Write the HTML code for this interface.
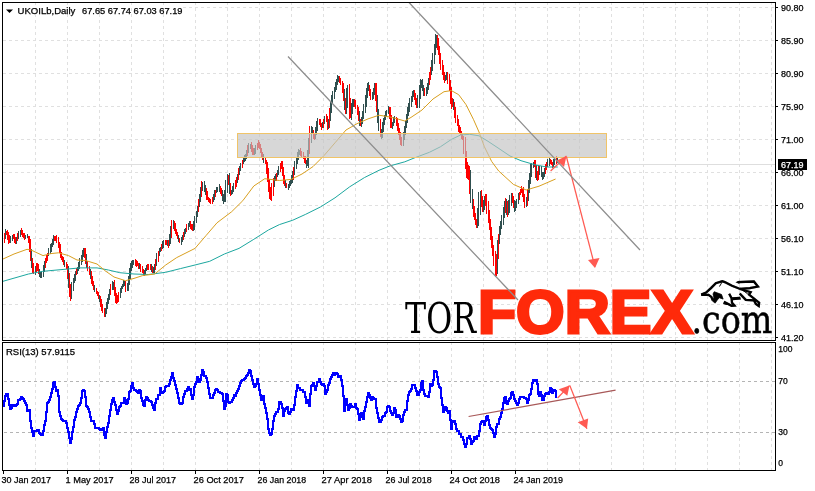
<!DOCTYPE html>
<html><head><meta charset="utf-8"><title>UKOILb Daily</title>
<style>html,body{margin:0;padding:0;background:#fff}svg{display:block}text{font-family:"Liberation Sans","DejaVu Sans",sans-serif;font-size:9px;fill:#000;stroke:#000;stroke-width:0.25px}.g{stroke:#e0e0e0;stroke-width:1;stroke-dasharray:3 3;fill:none;shape-rendering:crispEdges}.lv{stroke:#b4b4b4;stroke-width:1;stroke-dasharray:3 3;fill:none;shape-rendering:crispEdges}.b{stroke:#000;stroke-width:1;fill:none;shape-rendering:crispEdges}</style></head><body>
<svg width="815" height="491" viewBox="0 0 815 491">
<rect width="815" height="491" fill="#fff"/>
<g class="g">
<path d="M35.5 2V340M35.5 342V470"/>
<path d="M67.5 2V340M67.5 342V470"/>
<path d="M99.5 2V340M99.5 342V470"/>
<path d="M131.5 2V340M131.5 342V470"/>
<path d="M163.5 2V340M163.5 342V470"/>
<path d="M195.5 2V340M195.5 342V470"/>
<path d="M227.5 2V340M227.5 342V470"/>
<path d="M259.5 2V340M259.5 342V470"/>
<path d="M291.5 2V340M291.5 342V470"/>
<path d="M323.5 2V340M323.5 342V470"/>
<path d="M355.5 2V340M355.5 342V470"/>
<path d="M387.5 2V340M387.5 342V470"/>
<path d="M419.5 2V340M419.5 342V470"/>
<path d="M451.5 2V340M451.5 342V470"/>
<path d="M483.5 2V340M483.5 342V470"/>
<path d="M515.5 2V340M515.5 342V470"/>
<path d="M547.5 2V340M547.5 342V470"/>
<path d="M579.5 2V340M579.5 342V470"/>
<path d="M611.5 2V340M611.5 342V470"/>
<path d="M643.5 2V340M643.5 342V470"/>
<path d="M675.5 2V340M675.5 342V470"/>
<path d="M707.5 2V340M707.5 342V470"/>
<path d="M739.5 2V340M739.5 342V470"/>
<path d="M771.5 2V340M771.5 342V470"/>
<path d="M183 7.5H775"/>
<path d="M3 40.5H775"/>
<path d="M3 73.5H775"/>
<path d="M3 106.5H775"/>
<path d="M3 139.5H775"/>
<path d="M3 172.5H775"/>
<path d="M3 205.5H775"/>
<path d="M3 238.5H775"/>
<path d="M3 271.5H775"/>
<path d="M3 304.5H775"/>
<path d="M3 337.5H775"/>
</g>
<g class="lv"><path d="M4 381.5H775M4 432.5H775"/></g>
<path d="M4 164.5H775" stroke="#dedede" stroke-width="1" shape-rendering="crispEdges"/>
<g shape-rendering="crispEdges" stroke-width="1">
<path d="M5.5 229V239M10.5 236V243M12.5 235V241M16.5 237V244M18.5 231V239M20.5 230V237M25.5 235V239M27.5 234V238M31.5 249V268M35.5 266V275M39.5 269V277M40.5 272V278M41.5 271V278M43.5 265V277M44.5 261V272M48.5 248V256M50.5 244V254M51.5 243V252M52.5 239V247M53.5 235V245M64.5 260V267M68.5 266V288M71.5 282V299M73.5 278V291M74.5 274V283M75.5 271V281M77.5 267V274M78.5 262V271M79.5 258V269M81.5 255V265M82.5 250V262M83.5 248V257M86.5 254V268M90.5 269V279M94.5 285V292M99.5 295V302M105.5 308V317M106.5 302V314M107.5 298V309M108.5 294V304M109.5 289V300M112.5 281V290M113.5 282V290M120.5 288V298M121.5 286V293M122.5 284V289M123.5 280V287M124.5 281V286M127.5 283V291M128.5 276V291M129.5 268V285M130.5 263V279M131.5 261V271M132.5 260V268M133.5 260V265M139.5 263V269M144.5 270V276M145.5 268V275M146.5 265V271M151.5 264V272M153.5 267V273M154.5 264V273M156.5 253V266M159.5 248V256M160.5 247V252M162.5 241V249M163.5 240V248M167.5 240V246M169.5 234V246M170.5 226V244M173.5 220V229M178.5 235V242M181.5 237V245M182.5 235V242M184.5 229V237M185.5 228V234M188.5 223V230M189.5 221V227M193.5 221V231M194.5 216V230M196.5 211V223M197.5 206V217M199.5 194V207M200.5 187V202M202.5 182V191M204.5 181V192M205.5 185V195M213.5 194V202M214.5 190V200M216.5 187V193M217.5 187V192M219.5 184V192M222.5 190V201M223.5 194V204M224.5 190V202M225.5 180V202M227.5 174V193M229.5 173V194M231.5 190V195M232.5 186V194M233.5 183V192M237.5 174V183M239.5 166V175M240.5 163V171M243.5 157V164M244.5 155V162M245.5 154V161M246.5 150V159M248.5 143V153M250.5 144V149M254.5 148V155M255.5 145V154M263.5 154V163M274.5 176V187M275.5 174V181M277.5 170V177M278.5 166V175M285.5 180V188M288.5 184V190M289.5 181V188M290.5 180V186M291.5 175V184M292.5 171V183M294.5 161V175M296.5 157V169M297.5 152V164M298.5 149V160M299.5 150V155M306.5 160V168M307.5 150V166M308.5 138V168M311.5 126V143M312.5 127V134M315.5 127V139M316.5 121V135M317.5 118V131M322.5 122V128M324.5 116V124M328.5 119V129M330.5 102V121M331.5 95V113M332.5 91V104M334.5 87V99M335.5 82V92M336.5 79V90M337.5 75V85M338.5 76V82M344.5 89V110M346.5 88V114M347.5 85V108M351.5 103V120M352.5 99V114M353.5 99V107M359.5 111V126M361.5 117V127M362.5 111V124M363.5 104V119M365.5 95V113M366.5 88V107M367.5 83V98M368.5 82V91M372.5 92V100M373.5 88V99M374.5 83V95M377.5 95V123M378.5 109V131M381.5 129V139M382.5 122V138M383.5 118V132M384.5 115V125M385.5 111V120M386.5 110V117M388.5 106V114M392.5 122V129M393.5 117V126M394.5 116V123M403.5 132V146M404.5 126V140M405.5 121V135M406.5 114V128M407.5 107V123M408.5 103V116M409.5 98V112M411.5 96V107M412.5 91V102M413.5 90V97M417.5 95V108M419.5 85V108M420.5 79V99M421.5 80V88M422.5 79V91M423.5 85V96M426.5 87V96M427.5 83V94M428.5 78V90M431.5 60V75M432.5 53V71M434.5 44V64M435.5 34V55M436.5 35V48M445.5 75V81M446.5 72V80M453.5 99V110M470.5 170V203M472.5 189V209M477.5 208V228M478.5 192V226M480.5 191V215M483.5 200V212M484.5 196V210M497.5 240V274M499.5 226V244M500.5 221V235M501.5 215V229M503.5 207V225M504.5 201V218M506.5 199V215M508.5 200V215M509.5 195V213M511.5 193V206M514.5 200V212M515.5 201V211M516.5 199V208M518.5 193V204M526.5 197V207M528.5 180V201M529.5 173V193M530.5 164V184M531.5 163V177M533.5 162V168M536.5 165V180M539.5 166V175M541.5 166V177M542.5 172V180M543.5 172V179M544.5 168V177M547.5 159V167M549.5 158V166M553.5 159V167M554.5 157V165M557.5 157V163" stroke="#2f4f4f"/>
<path d="M4.5 233V243M6.5 231V235M7.5 230V240M8.5 232V244M9.5 235V243M13.5 234V239M14.5 234V243M15.5 237V244M17.5 233V241M21.5 228V235M22.5 230V237M23.5 233V238M24.5 233V240M28.5 236V243M29.5 236V252M30.5 239V261M32.5 258V273M33.5 263V274M36.5 263V273M37.5 263V271M38.5 264V274M45.5 258V268M46.5 255V263M47.5 253V261M54.5 236V241M55.5 236V241M56.5 235V243M58.5 237V248M59.5 242V253M60.5 244V258M61.5 252V260M62.5 256V262M63.5 257V265M66.5 262V269M67.5 264V279M69.5 273V297M70.5 284V301M76.5 268V275M84.5 248V258M85.5 248V264M87.5 261V271M89.5 266V275M91.5 271V284M92.5 276V286M93.5 281V290M96.5 288V294M97.5 291V296M98.5 292V299M100.5 296V307M101.5 299V311M102.5 304V313M104.5 308V317M110.5 284V295M114.5 280V296M115.5 287V303M116.5 293V304M117.5 295V303M118.5 292V302M125.5 281V292M135.5 259V266M136.5 260V267M137.5 261V266M138.5 263V269M140.5 264V272M142.5 266V273M143.5 269V276M147.5 264V270M148.5 264V270M150.5 264V270M152.5 266V273M155.5 259V270M158.5 251V262M161.5 244V251M165.5 240V245M166.5 240V245M168.5 240V248M171.5 220V238M174.5 221V231M175.5 223V234M176.5 229V236M177.5 232V239M179.5 238V243M183.5 232V240M186.5 224V232M190.5 221V229M191.5 224V230M192.5 224V231M198.5 199V212M201.5 181V197M206.5 188V200M207.5 191V200M208.5 197V202M209.5 198V203M210.5 199V204M212.5 197V204M215.5 190V197M220.5 186V194M221.5 188V196M228.5 175V185M230.5 183V196M235.5 180V189M236.5 177V187M238.5 168V180M242.5 160V168M247.5 145V156M251.5 142V152M252.5 145V155M253.5 148V155M257.5 143V150M258.5 140V148M259.5 142V149M260.5 144V153M261.5 148V157M262.5 152V160M265.5 157V164M266.5 160V174M267.5 162V182M268.5 168V192M269.5 179V199M270.5 187V200M271.5 183V201M273.5 178V196M276.5 173V181M280.5 163V172M281.5 161V169M282.5 161V176M283.5 167V184M284.5 175V186M286.5 183V188M293.5 167V180M300.5 148V156M301.5 151V157M303.5 152V159M304.5 156V163M305.5 156V164M309.5 126V154M313.5 130V139M314.5 133V140M319.5 119V125M320.5 119V127M321.5 123V130M323.5 119V128M326.5 114V122M327.5 116V130M329.5 108V128M339.5 76V83M340.5 78V85M342.5 81V93M343.5 83V101M345.5 98V114M349.5 84V119M350.5 98V118M354.5 99V107M355.5 100V109M357.5 105V115M358.5 107V121M360.5 119V126M369.5 85V96M370.5 89V100M375.5 83V101M376.5 83V112M380.5 119V137M389.5 107V119M390.5 107V128M391.5 115V128M396.5 117V126M397.5 118V131M398.5 123V135M399.5 128V140M400.5 132V145M401.5 137V146M414.5 90V100M415.5 93V105M416.5 98V108M424.5 88V96M429.5 72V85M430.5 67V80M437.5 35V50M438.5 38V55M439.5 46V64M440.5 53V70M442.5 60V75M443.5 65V80M444.5 72V83M447.5 72V84M449.5 74V91M450.5 80V104M451.5 87V109M452.5 98V107M454.5 102V118M455.5 107V123M457.5 115V126M458.5 119V132M459.5 125V133M460.5 127V135M461.5 131V139M462.5 134V140M463.5 136V154M465.5 137V169M466.5 151V178M467.5 162V179M468.5 165V180M469.5 166V194M473.5 199V217M474.5 206V220M475.5 213V225M476.5 219V228M481.5 190V207M482.5 196V212M485.5 194V206M486.5 194V214M488.5 201V223M489.5 210V230M490.5 219V240M491.5 227V248M492.5 236V256M493.5 245V266M495.5 251V277M496.5 254V276M498.5 234V259M505.5 198V213M507.5 201V217M512.5 193V203M513.5 196V208M519.5 192V200M520.5 189V195M521.5 186V193M522.5 189V197M523.5 187V202M524.5 194V208M527.5 189V206M534.5 160V167M535.5 160V178M537.5 171V181M538.5 166V180M545.5 164V174M546.5 162V170M550.5 159V164M551.5 160V165M552.5 162V168M556.5 156V164" stroke="#ff0000"/>
</g>
<polyline points="3.0,281.3 28.5,274.0 42.8,271.3 57.0,270.0 80.0,267.9 97.0,267.9 108.4,270.0 119.8,272.7 134.0,274.0 148.3,274.5 165.7,272.3 180.4,268.6 195.0,265.0 209.7,261.3 224.4,254.0 239.0,248.4 253.8,239.3 268.4,230.0 279.4,224.6 292.8,220.2 305.7,214.3 320.4,207.0 335.0,197.8 349.7,186.8 364.4,177.6 379.0,170.3 390.0,165.9 404.8,161.8 414.7,157.8 429.4,152.3 440.4,146.8 451.4,139.4 460.6,135.0 469.7,134.3 479.0,135.8 488.0,141.3 499.0,148.6 510.0,156.0 521.0,160.7 535.8,165.0 546.8,167.0 557.8,167.0" fill="none" stroke="#1ca79f" stroke-width="1"/>
<polyline points="3.0,259.0 14.0,254.0 27.0,249.3 31.0,250.0 43.0,255.6 51.0,253.6 58.5,252.8 68.5,255.6 77.0,260.0 85.6,260.5 97.0,264.0 105.5,271.0 114.0,277.0 125.5,280.7 134.0,278.4 142.6,275.6 154.7,274.0 165.7,265.0 176.7,257.6 195.0,248.4 206.0,235.6 217.0,222.8 231.7,211.7 242.8,200.7 253.8,186.0 264.8,178.7 279.4,180.5 291.0,179.4 302.0,174.0 313.0,166.6 324.0,155.6 335.0,142.8 346.0,130.0 357.0,123.7 368.0,118.9 379.0,115.2 390.0,117.0 397.4,118.9 404.8,121.0 411.0,117.4 422.0,110.0 433.0,99.0 444.0,91.7 451.4,90.6 458.7,94.7 466.0,104.6 473.4,119.3 479.0,132.0 484.4,146.8 491.7,161.5 498.7,171.0 513.4,184.4 526.2,190.0 539.0,186.2 555.6,179.0" fill="none" stroke="#d9a020" stroke-width="1"/>
<rect x="237.5" y="133.5" width="369" height="24" fill="#c2c2c2" fill-opacity="0.66" stroke="#f0c468" stroke-width="1"/>
<g stroke="#ff5a52" stroke-width="1.25" fill="#ff5a52"><path d="M550.6 171L566.5 156" fill="none"/><path d="M566.5 156L556.7 160.6L564 167Z" stroke="none"/><path d="M566.5 157L595 267" fill="none"/><path d="M595 268L588 260L599.5 258Z" stroke="none"/></g>
<path d="M3 406H4V401H5V396H6V394H7V394H8V399H9V405H10V409H11V408H12V405H13V405H14V406H15V406H16V405H17V404H18V400H19V400H20V399H21V397H22V398H23V399H24V401H25V403H26V405H27V411H28V411H29V410H30V421H31V428H32V432H33V436H34V431H35V431H36V431H37V430H38V430H39V433H40V434H41V435H42V435H43V431H44V425H45V421H46V412H47V403H48V402H49V400H50V397H51V393H52V389H53V383H54V382H55V387H56V391H57V390H58V396H59V412H60V416H61V419H62V420H63V421H64V421H65V421H66V423H67V428H68V432H69V438H70V443H71V439H72V432H73V427H74V420H75V417H76V412H77V409H78V406H79V405H80V403H81V398H82V391H83V390H84V391H85V397H86V406H87V407H88V409H89V412H90V417H91V421H92V421H93V421H94V424H95V428H96V428H97V428H98V428H99V429H100V430H101V430H102V429H103V428H104V435H105V438H106V432H107V427H108V423H109V416H110V410H111V404H112V400H113V398H114V402H115V405H116V410H117V414H118V411H119V407H120V406H121V403H122V403H123V403H124V398H125V400H126V404H127V403H128V399H129V392H130V391H131V386H132V383H133V388H134V390H135V390H136V391H137V392H138V393H139V390H140V391H141V398H142V401H143V405H144V406H145V400H146V397H147V398H148V400H149V401H150V401H151V402H152V405H153V408H154V410H155V403H156V399H157V399H158V395H159V395H160V388H161V392H162V393H163V392H164V391H165V387H166V386H167V386H168V386H169V384H170V380H171V377H172V373H173V378H174V381H175V385H176V389H177V393H178V398H179V403H180V404H181V404H182V403H183V397H184V394H185V391H186V391H187V389H188V387H189V390H190V389H191V395H192V399H193V395H194V387H195V384H196V382H197V377H198V379H199V382H200V380H201V375H202V370H203V372H204V376H205V376H206V378H207V382H208V388H209V394H210V398H211V398H212V398H213V395H214V393H215V390H216V389H217V390H218V392H219V392H220V393H221V393H222V394H223V401H224V409H225V406H226V394H227V395H228V402H229V403H230V402H231V402H232V400H233V398H234V395H235V396H236V393H237V391H238V389H239V386H240V383H241V381H242V380H243V380H244V379H245V378H246V376H247V375H248V373H249V370H250V371H251V376H252V380H253V384H254V387H255V386H256V384H257V379H258V384H259V390H260V395H261V400H262V396H263V396H264V404H265V408H266V413H267V419H268V429H269V433H270V435H271V434H272V429H273V421H274V416H275V414H276V412H277V412H278V409H279V402H280V402H281V404H282V408H283V416H284V411H285V409H286V408H287V407H288V413H289V414H290V412H291V409H292V409H293V410H294V405H295V397H296V391H297V385H298V388H299V388H300V390H301V390H302V390H303V392H304V392H305V397H306V403H307V401H308V400H309V406H310V394H311V386H312V385H313V383H314V386H315V390H316V386H317V382H318V382H319V379H320V382H321V384H322V385H323V384H324V386H325V394H326V392H327V390H328V385H329V383H330V379H331V377H332V375H333V373H334V375H335V373H336V373H337V374H338V377H339V377H340V376H341V380H342V386H343V396H344V411H345V404H346V399H347V405H348V410H349V408H350V404H351V406H352V407H353V407H354V407H355V404H356V408H357V409H358V414H359V420H360V417H361V413H362V415H363V419H364V411H365V407H366V402H367V397H368V393H369V395H370V398H371V400H372V397H373V398H374V399H375V399H376V408H377V413H378V418H379V422H380V422H381V420H382V417H383V416H384V416H385V413H386V412H387V407H388V406H389V407H390V411H391V413H392V415H393V413H394V408H395V410H396V417H397V417H398V415H399V416H400V419H401V422H402V421H403V415H404V412H405V410H406V410H407V401H408V395H409V392H410V391H411V389H412V385H413V385H414V385H415V388H416V391H417V395H418V395H419V392H420V390H421V383H422V381H423V390H424V394H425V396H426V396H427V396H428V397H429V392H430V384H431V386H432V385H433V380H434V371H435V371H436V372H437V377H438V384H439V387H440V388H441V398H442V405H443V412H444V410H445V407H446V408H447V411H448V413H449V411H450V420H451V429H452V422H453V421H454V421H455V424H456V429H457V431H458V431H459V434H460V434H461V437H462V437H463V440H464V444H465V447H466V444H467V438H468V438H469V436H470V439H471V444H472V442H473V441H474V437H475V439H476V439H477V436H478V436H479V431H480V424H481V422H482V421H483V422H484V425H485V421H486V417H487V416H488V420H489V425H490V428H491V429H492V430H493V433H494V437H495V434H496V427H497V424H498V424H499V419H500V417H501V413H502V409H503V403H504V398H505V397H506V403H507V404H508V401H509V399H510V398H511V393H512V392H513V395H514V399H515V401H516V403H517V405H518V403H519V399H520V397H521V397H522V397H523V397H524V398H525V398H526V399H527V403H528V400H529V395H530V394H531V389H532V383H533V380H534V381H535V381H536V380H537V384H538V394H539V396H540V392H541V395H542V400H543V400H544V396H545V394H546V393H547V393H548V394H549V392H550V388H551V389H552V393H553V391H554V390H555V391H556V397H557" fill="none" stroke="#0000ff" stroke-width="2" stroke-linejoin="miter" shape-rendering="crispEdges"/>
<path d="M468.6 416.5L615.6 390.2" stroke="#a85858" stroke-width="1.2"/>
<g stroke="#ff5a52" stroke-width="1.25" fill="#ff5a52"><path d="M557.6 398L569.5 385.6" fill="none"/><path d="M569.5 385.6L558.8 389.3L567.3 395.7Z" stroke="none"/><path d="M569.8 385.6L586.9 428.7" fill="none"/><path d="M586.9 428.7L577.7 422.3L588.2 418.6Z" stroke="none"/></g>
<defs><filter id="sh" x="-10%" y="-20%" width="120%" height="140%"><feGaussianBlur in="SourceAlpha" stdDeviation="0.9"/><feOffset dx="0.6" dy="0.8"/><feComponentTransfer><feFuncA type="linear" slope="0.45"/></feComponentTransfer><feMerge><feMergeNode/><feMergeNode in="SourceGraphic"/></feMerge></filter></defs>
<g id="logo">
<text x="405" y="332.6" style="font-family:'DejaVu Serif','Liberation Serif',serif;font-size:43px;stroke:none" textLength="71" lengthAdjust="spacingAndGlyphs">TOR</text>
<text x="478" y="332.9" style="font-family:'Liberation Sans',sans-serif;font-weight:bold;font-size:61px;fill:#ff2a0a;stroke:#ff2a0a;stroke-width:3px" textLength="215" lengthAdjust="spacingAndGlyphs">FOREX</text>
<text x="691.5" y="333" style="font-family:'DejaVu Serif','Liberation Serif',serif;font-size:38.5px;stroke:#000;stroke-width:0.5px" textLength="81" lengthAdjust="spacingAndGlyphs">.com</text>
<g transform="translate(698 276) scale(0.08097)" filter="url(#sh)" fill="none" stroke="#000" stroke-width="28" stroke-linejoin="miter" stroke-linecap="butt">
<path d="M40 230L100 205L160 150L220 90L300 65L330 75L420 120L520 160L640 150L740 130L690 68L490 75"/>
<path d="M462 78L512 58L512 96Z" fill="#000" stroke="none"/>
<path d="M300 70L265 130" stroke-width="10"/>
<path d="M520 160L600 185L650 200L630 230L755 330L750 370L715 345L690 300L590 295L515 215"/>
<path d="M540 168L612 218" stroke-width="12"/>
<path d="M420 262L520 255L530 290L425 298Z" fill="#000" stroke="none"/>
<path d="M385 220L415 275L420 330L450 365L415 368L320 318"/>
<path d="M200 195L290 228L310 285L262 268L236 300L212 335L178 308L196 262L186 222Z" fill="#000" stroke-width="8"/>
<path d="M40 232L130 232L165 258L182 300"/>
<ellipse cx="345" cy="345" rx="38" ry="9" transform="rotate(12 345 345)" fill="#000" stroke="none"/>
</g>
</g>
<path d="M288 56.5L518 300M409 2.5L640 250" stroke="#8e8e8e" stroke-width="1.25" fill="none"/>
<g class="b"><rect x="2.5" y="2.5" width="773" height="338"/><rect x="2.5" y="342.5" width="773" height="128"/>
<path d="M776 7.5H778M776 40.5H778M776 73.5H778M776 106.5H778M776 139.5H778M776 172.5H778M776 205.5H778M776 238.5H778M776 271.5H778M776 304.5H778M776 337.5H778M3.5 471V474M67.5 471V474M131.5 471V474M195.5 471V474M259.5 471V474M323.5 471V474M387.5 471V474M451.5 471V474M515.5 471V474"/></g>
<text x="781" y="10.9" textLength="22.5" lengthAdjust="spacingAndGlyphs">90.80</text>
<text x="781" y="43.9" textLength="22.5" lengthAdjust="spacingAndGlyphs">85.90</text>
<text x="781" y="76.9" textLength="22.5" lengthAdjust="spacingAndGlyphs">80.90</text>
<text x="781" y="109.9" textLength="22.5" lengthAdjust="spacingAndGlyphs">75.90</text>
<text x="781" y="142.9" textLength="22.5" lengthAdjust="spacingAndGlyphs">71.00</text>
<text x="781" y="175.9" textLength="22.5" lengthAdjust="spacingAndGlyphs">66.00</text>
<text x="781" y="208.9" textLength="22.5" lengthAdjust="spacingAndGlyphs">61.00</text>
<text x="781" y="241.9" textLength="22.5" lengthAdjust="spacingAndGlyphs">56.10</text>
<text x="781" y="274.9" textLength="22.5" lengthAdjust="spacingAndGlyphs">51.10</text>
<text x="781" y="307.9" textLength="22.5" lengthAdjust="spacingAndGlyphs">46.10</text>
<text x="781" y="340.9" textLength="22.5" lengthAdjust="spacingAndGlyphs">41.20</text>
<rect x="778" y="159" width="29" height="11" fill="#000"/><text x="781" y="168" textLength="22.5" lengthAdjust="spacingAndGlyphs" style="fill:#fff;stroke:#fff">67.19</text>
<text x="778.3" y="351.8" style="font-size:8.5px">100</text>
<text x="778.3" y="384.3" style="font-size:8.5px">70</text>
<text x="778.3" y="435.3" style="font-size:8.5px">30</text>
<text x="778.3" y="465.8" style="font-size:8.5px">0</text>
<text x="1.6" y="483" textLength="49.5" lengthAdjust="spacingAndGlyphs">30 Jan 2017</text>
<text x="65.6" y="483" textLength="48" lengthAdjust="spacingAndGlyphs">1 May 2017</text>
<text x="129.6" y="483" textLength="46.5" lengthAdjust="spacingAndGlyphs">28 Jul 2017</text>
<text x="193.6" y="483" textLength="50.3" lengthAdjust="spacingAndGlyphs">26 Oct 2017</text>
<text x="257.6" y="483" textLength="48.6" lengthAdjust="spacingAndGlyphs">26 Jan 2018</text>
<text x="321.6" y="483" textLength="50.3" lengthAdjust="spacingAndGlyphs">27 Apr 2018</text>
<text x="385.6" y="483" textLength="46" lengthAdjust="spacingAndGlyphs">26 Jul 2018</text>
<text x="449.6" y="483" textLength="50.4" lengthAdjust="spacingAndGlyphs">24 Oct 2018</text>
<text x="513.6" y="483" textLength="49.3" lengthAdjust="spacingAndGlyphs">24 Jan 2019</text>
<path d="M6 9.4H13L9.5 13Z" fill="#000"/>
<text x="17.6" y="13.5" textLength="57.8" lengthAdjust="spacingAndGlyphs">UKOILb,Daily</text>
<text x="82" y="13.5" textLength="100.5" lengthAdjust="spacingAndGlyphs">67.65 67.74 67.03 67.19</text>
<text x="6" y="355" textLength="69" lengthAdjust="spacingAndGlyphs">RSI(13) 57.9115</text>
</svg></body></html>
